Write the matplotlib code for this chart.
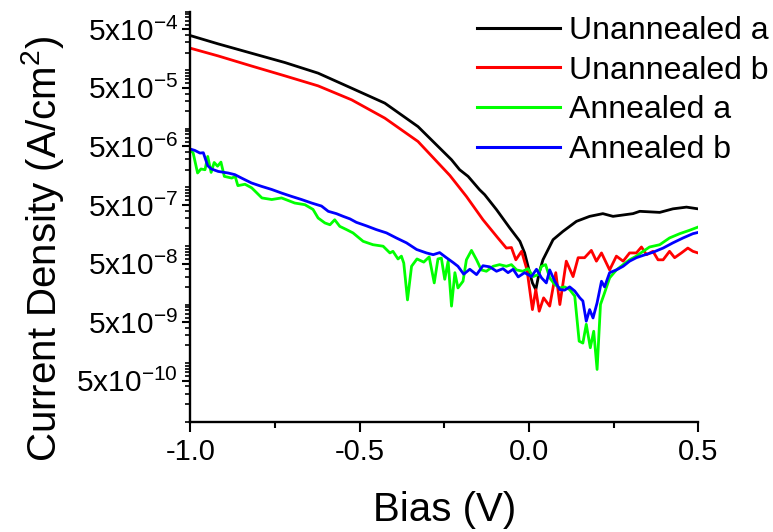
import matplotlib
matplotlib.use("Agg")
import matplotlib.pyplot as plt
from matplotlib.ticker import FixedLocator, FixedFormatter, LogLocator, NullFormatter, MultipleLocator

plt.rcParams['font.family'] = ['Liberation Sans', 'DejaVu Sans']
plt.rcParams['mathtext.fontset'] = 'custom'
plt.rcParams['mathtext.rm'] = 'Liberation Sans'
plt.rcParams['mathtext.default'] = 'regular'

# ---- data (Bias in V, current density in A/cm^2) ----
unannealed_a = [(-1.0, 3.89e-4), (-0.918, 2.81e-4), (-0.82, 1.95e-4), (-0.721, 1.35e-4),
                (-0.623, 8.9e-5), (-0.524, 4.93e-5), (-0.426, 2.74e-5), (-0.328, 1.09e-5),
                (-0.229, 2.96e-6), (-0.205, 2.0e-6), (-0.18, 1.54e-6), (-0.146, 9.1e-7),
                (-0.131, 7.5e-7), (-0.096, 4.16e-7), (-0.057, 2.03e-7), (-0.027, 1.2e-7),
                (-0.013, 7.6e-8), (-0.003, 4.5e-8), (0.010, 2.34e-8), (0.020, 1.8e-8),
                (0.030, 3.5e-8), (0.041, 5.8e-8), (0.071, 1.28e-7), (0.100, 1.77e-7),
                (0.140, 2.63e-7), (0.179, 3.2e-7), (0.218, 3.56e-7), (0.248, 3.2e-7),
                (0.307, 3.56e-7), (0.327, 3.9e-7), (0.386, 3.74e-7), (0.425, 4.3e-7),
                (0.465, 4.6e-7), (0.499, 4.3e-7)]

unannealed_b = [(-1.0, 2.37e-4), (-0.918, 1.75e-4), (-0.82, 1.18e-4), (-0.721, 8.0e-5),
                (-0.623, 5.4e-5), (-0.524, 3.12e-5), (-0.426, 1.52e-5), (-0.328, 6.07e-6),
                (-0.234, 1.6e-6), (-0.185, 7.0e-7), (-0.136, 2.8e-7), (-0.092, 1.37e-7),
                (-0.067, 9.2e-8), (-0.052, 9.4e-8), (-0.039, 5.8e-8), (-0.022, 8.1e-8),
                (-0.006, 3.9e-8), (0.010, 8.2e-9), (0.020, 1.8e-8), (0.030, 7.7e-9),
                (0.043, 1.3e-8), (0.061, 9.4e-9), (0.079, 3.5e-8), (0.091, 1.0e-8),
                (0.110, 5.5e-8), (0.130, 3.0e-8), (0.145, 6.3e-8), (0.164, 6.3e-8),
                (0.184, 8.4e-8), (0.199, 5.5e-8), (0.214, 7.6e-8), (0.238, 3.9e-8),
                (0.258, 6.7e-8), (0.278, 5.5e-8), (0.297, 7.6e-8), (0.317, 7.6e-8),
                (0.332, 9.6e-8), (0.347, 7.1e-8), (0.366, 8.1e-8), (0.381, 5.8e-8),
                (0.396, 5.8e-8), (0.415, 8.1e-8), (0.430, 6.3e-8), (0.450, 7.6e-8),
                (0.469, 9.2e-8), (0.484, 8.1e-8), (0.499, 7.6e-8)]

annealed_a = [(-1.0, 4.4e-6), (-0.992, 3.85e-6), (-0.979, 1.76e-6), (-0.969, 2.06e-6),
              (-0.957, 2.0e-6), (-0.949, 3.37e-6), (-0.939, 1.8e-6), (-0.930, 2.66e-6),
              (-0.920, 2.3e-6), (-0.910, 2.7e-6), (-0.900, 1.54e-6), (-0.878, 1.44e-6),
              (-0.868, 1.54e-6), (-0.860, 1.07e-6), (-0.839, 1.13e-6), (-0.819, 9.8e-7),
              (-0.789, 6.6e-7), (-0.760, 6.2e-7), (-0.731, 6.6e-7), (-0.692, 5.4e-7),
              (-0.662, 5.06e-7), (-0.638, 4.2e-7), (-0.623, 3.0e-7), (-0.603, 2.47e-7),
              (-0.588, 2.3e-7), (-0.574, 2.8e-7), (-0.559, 2.16e-7), (-0.539, 1.9e-7),
              (-0.520, 1.67e-7), (-0.490, 1.2e-7), (-0.461, 1.05e-7), (-0.431, 9.9e-8),
              (-0.411, 7.6e-8), (-0.402, 8.1e-8), (-0.387, 6.0e-8), (-0.377, 6.7e-8),
              (-0.370, 5.1e-8), (-0.359, 1.2e-8), (-0.347, 4.5e-8), (-0.331, 6.0e-8),
              (-0.311, 5.3e-8), (-0.295, 6.5e-8), (-0.280, 2.34e-8), (-0.269, 6.0e-8),
              (-0.259, 6.2e-8), (-0.249, 2.7e-8), (-0.239, 5.5e-8), (-0.229, 9.4e-9),
              (-0.219, 3.5e-8), (-0.210, 1.92e-8), (-0.195, 2.5e-8), (-0.185, 5.8e-8),
              (-0.170, 8.4e-8), (-0.155, 5.8e-8), (-0.141, 3.9e-8), (-0.126, 3.7e-8),
              (-0.106, 4.5e-8), (-0.087, 4.8e-8), (-0.067, 4.5e-8), (-0.052, 4.8e-8),
              (-0.037, 3.9e-8), (-0.018, 3.7e-8), (-0.003, 4.1e-8), (0.012, 3.0e-8),
              (0.027, 3.24e-8), (0.037, 4.5e-8), (0.049, 4.8e-8), (0.061, 2.85e-8),
              (0.076, 2.2e-8), (0.091, 1.92e-8), (0.105, 2.0e-8), (0.120, 1.8e-8),
              (0.135, 1.39e-8), (0.148, 2.37e-9), (0.159, 2.2e-9), (0.169, 4.6e-9),
              (0.181, 1.83e-9), (0.191, 3.5e-9), (0.201, 7.8e-10), (0.211, 1.0e-8),
              (0.223, 1.58e-8), (0.238, 2.85e-8), (0.258, 3.9e-8), (0.278, 4.8e-8),
              (0.297, 5.8e-8), (0.317, 6.7e-8), (0.337, 8.1e-8), (0.356, 9.6e-8),
              (0.386, 1.05e-7), (0.415, 1.37e-7), (0.445, 1.62e-7), (0.474, 1.85e-7),
              (0.499, 2.1e-7)]

annealed_b = [(-1.0, 4.5e-6), (-0.987, 4.27e-6), (-0.972, 3.85e-6), (-0.962, 3.9e-6),
              (-0.955, 2.96e-6), (-0.949, 2.34e-6), (-0.938, 2.06e-6), (-0.918, 1.87e-6),
              (-0.889, 1.76e-6), (-0.869, 1.65e-6), (-0.849, 1.44e-6), (-0.820, 1.19e-6),
              (-0.790, 1.04e-6), (-0.760, 9.2e-7), (-0.731, 8.0e-7), (-0.701, 7.0e-7),
              (-0.672, 6.2e-7), (-0.642, 5.4e-7), (-0.613, 4.8e-7), (-0.593, 3.9e-7),
              (-0.569, 3.56e-7), (-0.549, 3.2e-7), (-0.529, 2.9e-7), (-0.510, 2.53e-7),
              (-0.480, 2.2e-7), (-0.451, 1.9e-7), (-0.421, 1.67e-7), (-0.392, 1.37e-7),
              (-0.362, 1.13e-7), (-0.332, 8.7e-8), (-0.303, 7.6e-8), (-0.283, 7.1e-8),
              (-0.264, 7.7e-8), (-0.244, 6.3e-8), (-0.224, 5.2e-8), (-0.210, 4.5e-8),
              (-0.193, 3.3e-8), (-0.175, 4.0e-8), (-0.155, 3.24e-8), (-0.136, 4.6e-8),
              (-0.116, 4.4e-8), (-0.096, 3.7e-8), (-0.077, 4.1e-8), (-0.062, 3.5e-8),
              (-0.047, 4.0e-8), (-0.032, 2.96e-8), (-0.013, 3.5e-8), (0.007, 3.0e-8),
              (0.022, 4.0e-8), (0.037, 2.85e-8), (0.051, 2.34e-8), (0.061, 3.9e-8),
              (0.076, 2.5e-8), (0.091, 1.8e-8), (0.105, 1.76e-8), (0.120, 2.0e-8),
              (0.135, 1.7e-8), (0.150, 1.3e-8), (0.159, 1.15e-8), (0.169, 5.2e-9),
              (0.179, 8.2e-9), (0.189, 5.9e-9), (0.201, 1.07e-8), (0.214, 2.5e-8),
              (0.223, 2.0e-8), (0.238, 3.5e-8), (0.258, 3.9e-8), (0.278, 4.5e-8),
              (0.297, 5.5e-8), (0.317, 6.3e-8), (0.337, 6.9e-8), (0.366, 7.8e-8),
              (0.396, 9.2e-8), (0.425, 1.13e-7), (0.455, 1.37e-7), (0.484, 1.62e-7),
              (0.499, 1.7e-7)]

series_names = ["Unannealed a", "Unannealed b", "Annealed a", "Annealed b"]
series_colors = ["#000000", "#ff0000", "#00ff00", "#0000ff"]

xtick_values = [-1.0, -0.5, 0.0, 0.5]
xtick_labels = ["-1.0", "-0.5", "0.0", "0.5"]
ytick_values = [5e-10, 5e-9, 5e-8, 5e-7, 5e-6, 5e-5, 5e-4]
ytick_labels = ["5x10$^{-10}$", "5x10$^{-9}$", "5x10$^{-8}$", "5x10$^{-7}$",
                "5x10$^{-6}$", "5x10$^{-5}$", "5x10$^{-4}$"]

# ---- figure ----
fig = plt.figure(figsize=(7.73, 5.32), dpi=100)
ax = fig.add_axes([0.2464, 0.2073, 0.657, 0.7709])

for data, name, color in zip([unannealed_a, unannealed_b, annealed_a, annealed_b],
                             series_names, series_colors):
    xs = [p[0] for p in data]
    ys = [p[1] for p in data]
    ax.plot(xs, ys, color=color, lw=2.0, label=name)

ax.set_yscale('log')
ax.set_xlim(-1.0, 0.5)
ax.set_ylim(1e-10, 1e-3)

ax.spines['top'].set_visible(False)
ax.spines['right'].set_visible(False)
for s in ('left', 'bottom'):
    ax.spines[s].set_linewidth(1.7)

ax.xaxis.set_major_locator(FixedLocator(xtick_values))
ax.xaxis.set_major_formatter(FixedFormatter(xtick_labels))
ax.xaxis.set_minor_locator(MultipleLocator(0.25))

ax.yaxis.set_major_locator(FixedLocator(ytick_values))
ax.yaxis.set_major_formatter(FixedFormatter(ytick_labels))
ax.yaxis.set_minor_locator(LogLocator(base=10, subs=range(1, 10), numticks=50))
ax.yaxis.set_minor_formatter(NullFormatter())

ax.tick_params(axis='x', which='major', direction='out', length=7.5, width=1.5,
               labelsize=21, pad=4)
ax.tick_params(axis='x', which='minor', direction='out', length=4.5, width=1.5)
ax.tick_params(axis='y', which='major', direction='out', length=6, width=1.5,
               labelsize=21.5, pad=3)
ax.tick_params(axis='y', which='minor', direction='out', length=3.5, width=1.2)

ax.set_xlabel("Bias (V)", fontsize=29)
ax.set_ylabel("Current Density (A/cm$^{2}$)", fontsize=29)
ax.xaxis.set_label_coords(0.5, -0.17)
ax.yaxis.set_label_coords(-0.245, 0.42)

leg = ax.legend(loc='upper left', bbox_to_anchor=(477 / 773, 1 - 16 / 532),
                bbox_transform=fig.transFigure, frameon=False, fontsize=23,
                handlelength=2.6, handletextpad=0.28, labelspacing=0.3,
                borderpad=0, borderaxespad=0)
for line in leg.get_lines():
    line.set_linewidth(2.2)

fig.savefig("out.png", dpi=100)
